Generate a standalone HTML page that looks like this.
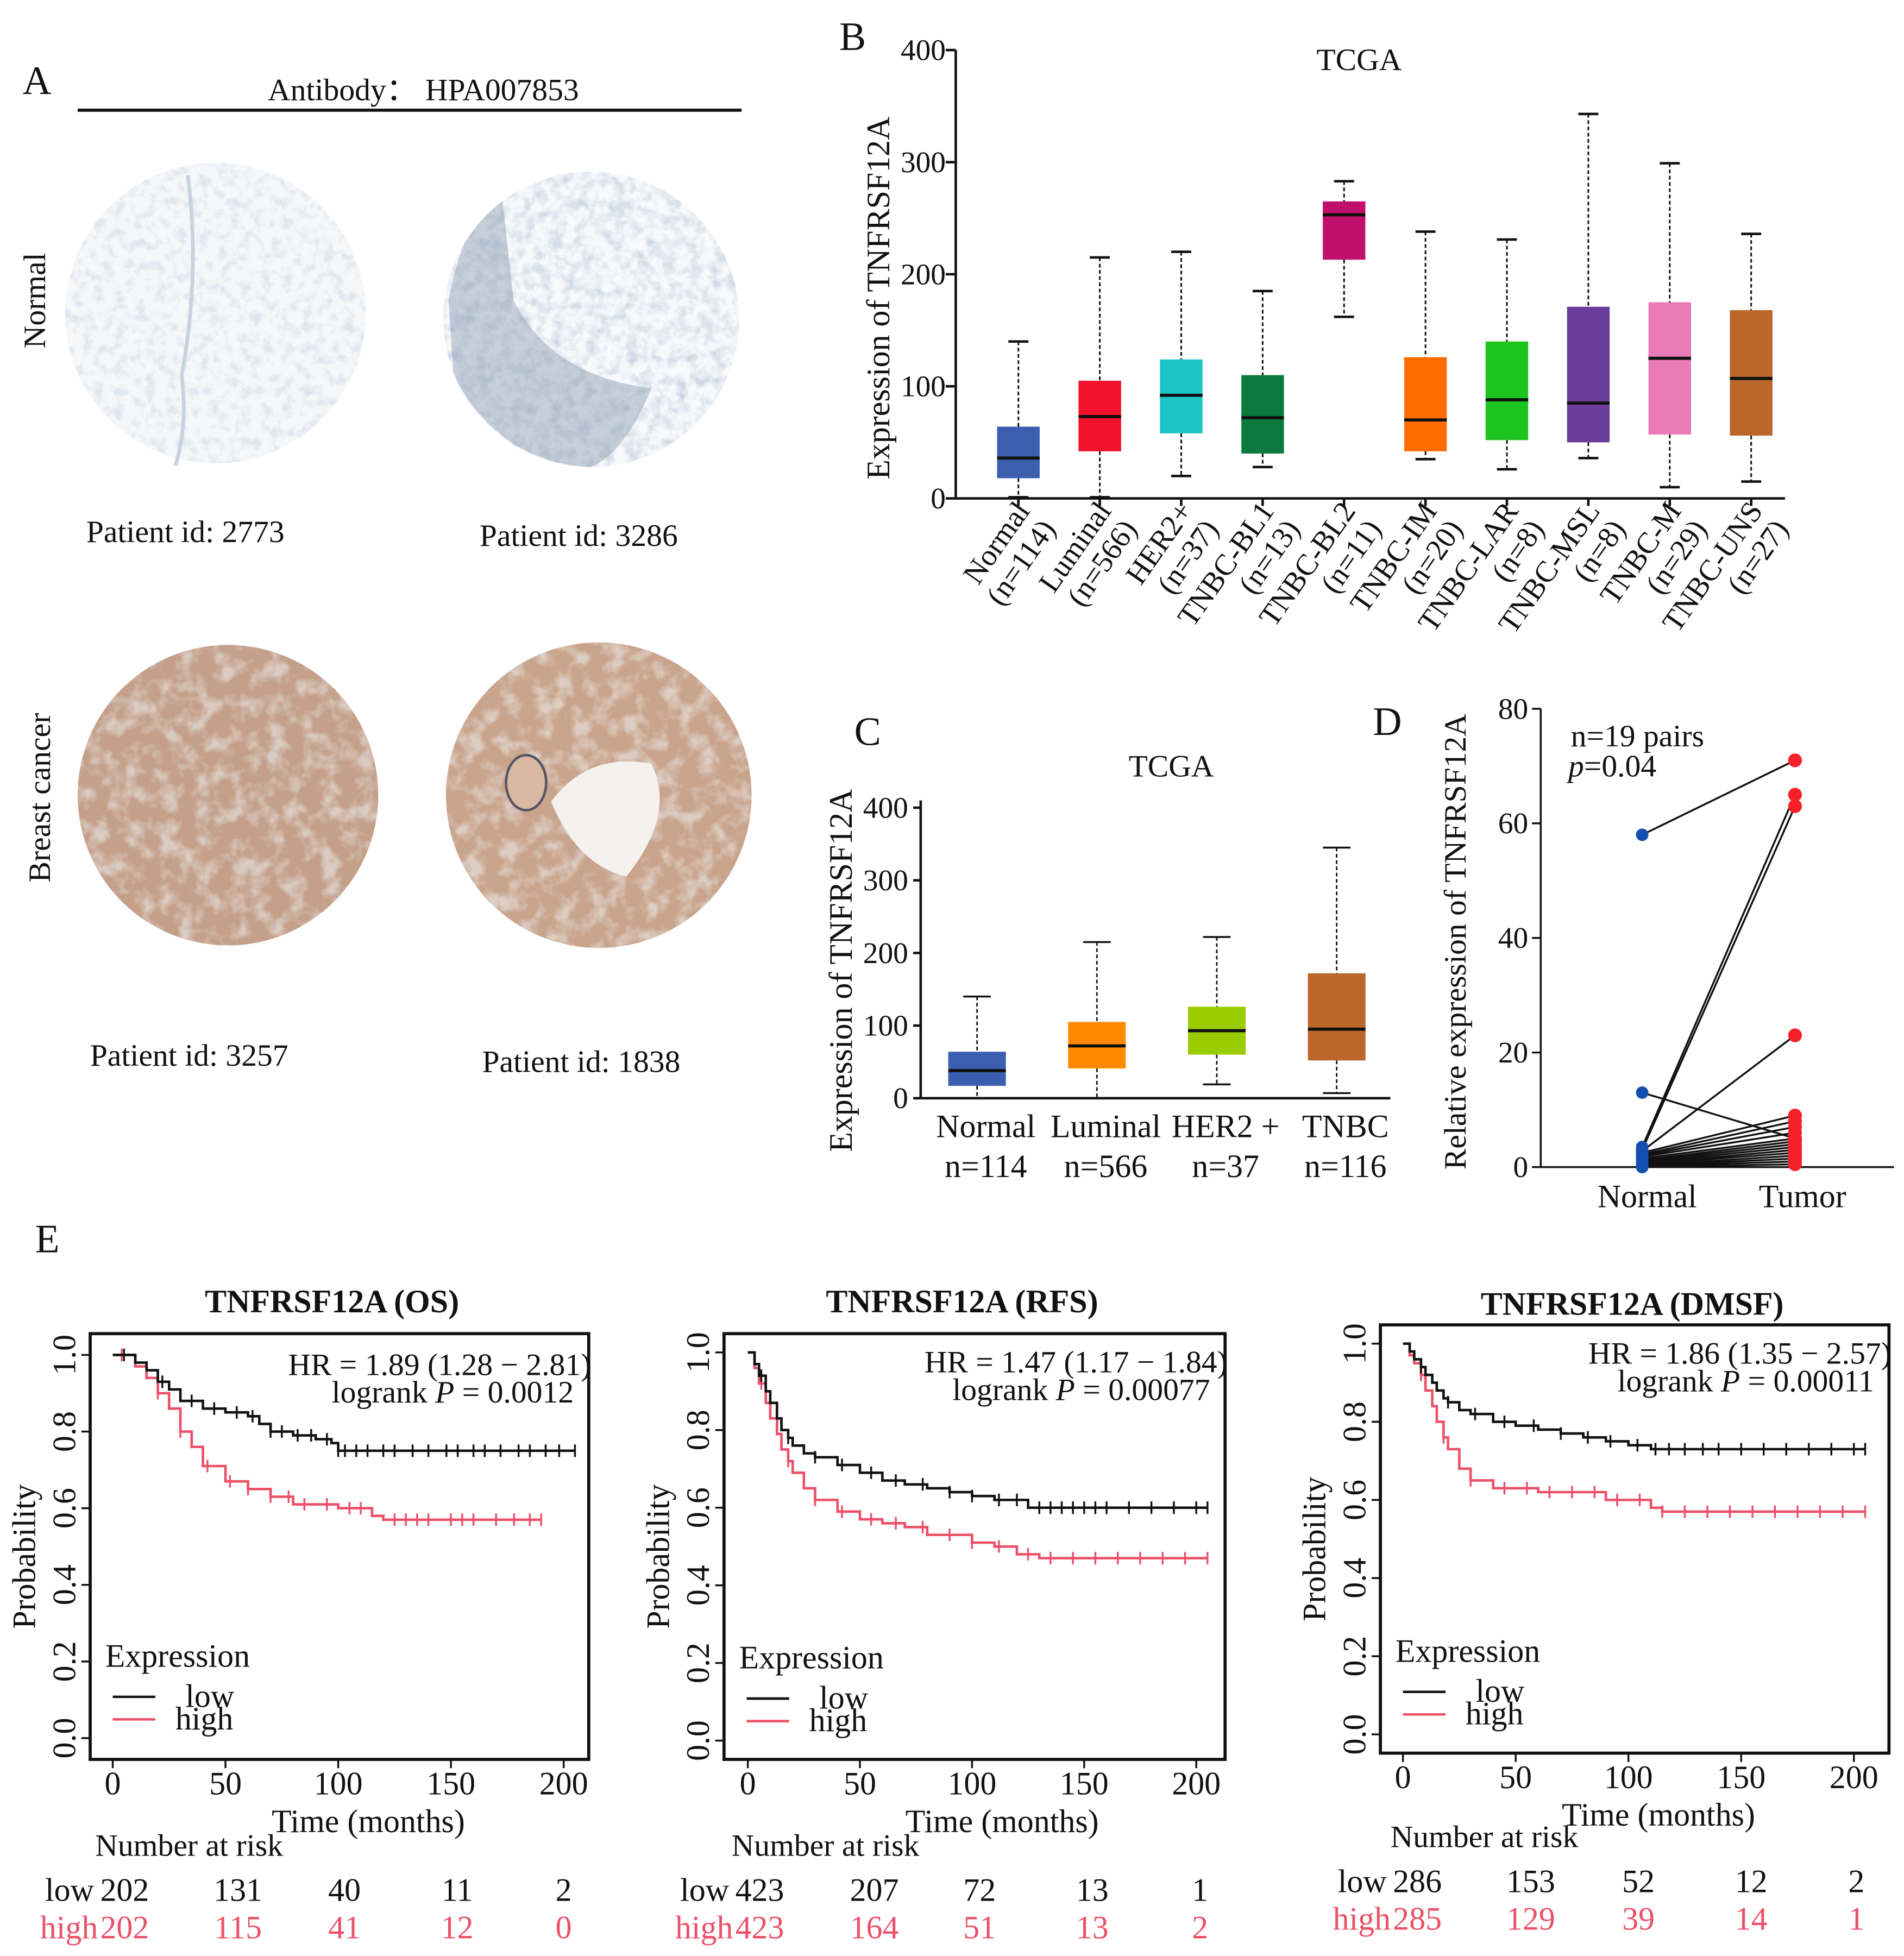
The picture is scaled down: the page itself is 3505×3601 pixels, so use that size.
<!DOCTYPE html>
<html><head><meta charset="utf-8">
<style>
html,body{margin:0;padding:0;background:#fff;}
svg{display:block;}
text{font-family:"Liberation Serif",serif;fill:#111;}
</style></head>
<body>
<svg id="fig" xmlns="http://www.w3.org/2000/svg" width="3505" height="3601" viewBox="0 0 1520 1562" preserveAspectRatio="none">
<defs>
<filter id="tex1" x="0" y="0" width="100%" height="100%">
 <feTurbulence type="fractalNoise" baseFrequency="0.12" numOctaves="3" seed="3"/>
 <feColorMatrix type="matrix" values="0 0 0 0 0.45  0 0 0 0 0.55  0 0 0 0 0.7  0 0 0 -3 1.6"/>
</filter>
<filter id="tex2" x="0" y="0" width="100%" height="100%">
 <feTurbulence type="fractalNoise" baseFrequency="0.07" numOctaves="3" seed="7"/>
 <feColorMatrix type="matrix" values="0 0 0 0 0.85  0 0 0 0 0.88  0 0 0 0 0.9  0 0 0 -3 1.7"/>
</filter>
<filter id="tex3" x="0" y="0" width="100%" height="100%">
 <feTurbulence type="fractalNoise" baseFrequency="0.1" numOctaves="3" seed="11"/>
 <feColorMatrix type="matrix" values="0 0 0 0 0.2  0 0 0 0 0.3  0 0 0 0 0.45  0 0 0 -3 1.6"/>
</filter>
<clipPath id="c1"><circle cx="172" cy="250" r="120"/></clipPath>
<clipPath id="c2"><circle cx="472" cy="255" r="118"/></clipPath>
<clipPath id="c3"><circle cx="182" cy="635" r="120"/></clipPath>
<clipPath id="c4"><circle cx="478" cy="635" r="122"/></clipPath>
</defs>

<g>
<text x="18" y="75" font-size="32">A</text>
<text x="338" y="80" font-size="25" text-anchor="middle">Antibody： HPA007853</text>
<line x1="62" y1="88" x2="592" y2="88" stroke="#111" stroke-width="2.5"/>
<text transform="translate(36,240) rotate(-90)" font-size="25" text-anchor="middle">Normal</text>
<text transform="translate(40,637) rotate(-90)" font-size="25" text-anchor="middle">Breast cancer</text>

<g>
<circle cx="172" cy="250" r="120" fill="#f5f7f9"/>
<rect x="50" y="128" width="245" height="245" filter="url(#tex1)" clip-path="url(#c1)" opacity="0.35"/>
<path d="M150,140 Q160,220 145,300 Q150,340 140,372" fill="none" stroke="#c8d3e0" stroke-width="3"/>
</g>
<g>
<circle cx="472" cy="255" r="118" fill="#f7f9fb"/>
<rect x="352" y="135" width="240" height="240" filter="url(#tex1)" clip-path="url(#c2)" opacity="0.35"/>
<path d="M358,240 Q370,175 400,150 L410,240 Q440,300 520,310 Q500,360 472,373 Q400,370 362,300 Z" fill="#8a9bb2" opacity="0.45" clip-path="url(#c2)"/>
<rect x="352" y="135" width="240" height="240" filter="url(#tex3)" clip-path="url(#c2)" opacity="0.25"/>
</g>
<g>
<circle cx="182" cy="635" r="120" fill="#c4a08a"/>
<rect x="60" y="513" width="245" height="245" filter="url(#tex2)" clip-path="url(#c3)" opacity="0.55"/>
</g>
<g>
<circle cx="478" cy="635" r="122" fill="#c9a48c"/>
<rect x="354" y="511" width="248" height="248" filter="url(#tex2)" clip-path="url(#c4)" opacity="0.55"/>
<path d="M440,640 Q470,600 520,610 Q540,650 500,700 Q460,690 440,640Z" fill="#f4f1ee" clip-path="url(#c4)"/>
<ellipse cx="420" cy="625" rx="16" ry="22" fill="#d9b8a2" stroke="#556" stroke-width="2"/>
</g>
<text x="148" y="433" font-size="25" text-anchor="middle">Patient id: 2773</text>
<text x="462" y="436" font-size="25" text-anchor="middle">Patient id: 3286</text>
<text x="151" y="851" font-size="25" text-anchor="middle">Patient id: 3257</text>
<text x="464" y="856" font-size="25" text-anchor="middle">Patient id: 1838</text>
</g>

<g id="gB"></g>
<g id="gC"></g>
<g id="gD"></g>
<g id="gE"></g>
</svg>

<script>
// ---------- Panel B data ----------
const bCats = ["Normal","Luminal","HER2+","TNBC-BL1","TNBC-BL2","TNBC-IM","TNBC-LAR","TNBC-MSL","TNBC-M","TNBC-UNS"];
const bN = ["(n=114)","(n=566)","(n=37)","(n=13)","(n=11)","(n=20)","(n=8)","(n=8)","(n=29)","(n=27)"];
const bMax = [140,215,220,185,283,238,231,343,299,236];
const bQ3 = [64,105,124,110,265,126,140,171,175,168];
const bMed = [36,73,92,72,253,70,88,85,125,107];
const bQ1 = [18,42,58,40,213,42,52,50,57,56];
const bMin = [1,1,20,28,162,35,26,36,10,15];
const bColors = ["#3b5fae","#f2122c","#1cc6c6","#0b7a3c","#c0106c","#ff6c00","#1ec41e","#6a3d9a","#e87bb8","#b9672b"];
const bTicks = [0,100,200,300,400];

// ---------- Panel C data ----------
const cCats = ["Normal","Luminal","HER2 +","TNBC"];
const cN = ["n=114","n=566","n=37","n=116"];
const cMax = [140,215,222,345];
const cQ3 = [64,105,126,172];
const cMed = [38,72,93,95];
const cQ1 = [17,41,60,52];
const cMin = [0,0,19,7];
const cColors = ["#3b5fae","#ff8a00","#9acc00","#b9672b"];
const cTicks = [0,100,200,300,400];

// ---------- Panel D data ----------
const dNormal = [58,13,3.5,3,2.8,2.5,2.2,2,1.8,1.5,1.2,1,0.8,0.6,0.5,0.3,0.2,0.1,0];
const dTumor = [71,5,65,63,23,9,8,7,6,5,4.5,4,3.5,3,2.5,2,1.5,1,0.5];
const dTicks = [0,20,40,60,80];

// ---------- Panel E data ----------
const eTitles = ["TNFRSF12A (OS)","TNFRSF12A (RFS)","TNFRSF12A (DMSF)"];
const eHR = ["HR = 1.89 (1.28 − 2.81)","HR = 1.47 (1.17 − 1.84)","HR = 1.86 (1.35 − 2.57)"];
const eP = ["0.0012","0.00077","0.00011"];
const eLowT = [[0,10,15,20,25,30,40,50,60,65,70,80,90,97,100,205],[0,3,5,8,10,13,15,18,20,25,30,40,50,60,70,80,90,100,110,125,205],[0,3,5,8,10,13,15,18,20,25,30,40,50,60,70,80,90,100,110,205]];
const eLowS = [[1,0.98,0.96,0.93,0.91,0.88,0.86,0.85,0.84,0.82,0.80,0.79,0.78,0.77,0.75,0.75],[1,0.97,0.94,0.90,0.87,0.83,0.80,0.78,0.76,0.74,0.73,0.71,0.69,0.67,0.66,0.65,0.64,0.63,0.62,0.60,0.60],[1,0.98,0.96,0.94,0.92,0.90,0.88,0.86,0.85,0.83,0.82,0.80,0.79,0.78,0.77,0.76,0.75,0.74,0.73,0.73]];
const eHighT = [[0,10,15,20,25,30,35,40,50,60,70,80,100,115,120,190],[0,3,5,8,10,13,15,18,20,25,30,40,50,60,70,80,100,110,120,130,205],[0,3,5,8,10,13,15,18,20,25,30,40,50,60,80,90,110,115,205]];
const eHighS = [[1,0.97,0.94,0.90,0.86,0.80,0.76,0.71,0.67,0.65,0.63,0.61,0.60,0.58,0.57,0.57],[1,0.96,0.92,0.87,0.83,0.79,0.75,0.72,0.69,0.65,0.62,0.59,0.57,0.56,0.55,0.53,0.51,0.50,0.48,0.47,0.47],[1,0.97,0.95,0.92,0.88,0.84,0.80,0.76,0.73,0.68,0.65,0.63,0.63,0.62,0.62,0.60,0.58,0.57,0.57]];
const eLowCens = [[5,22,35,45,55,62,70,75,82,88,95,100,103,108,113,120,125,133,140,148,153,160,165,172,180,185,192,198,205],[6,18,30,42,55,66,78,90,100,112,120,130,135,140,145,150,155,160,170,180,190,200,205],[8,20,32,45,58,70,82,92,104,112,118,125,133,140,150,160,170,180,190,200,205]];
const eHighCens = [[4,20,30,42,52,60,70,78,85,95,105,110,125,130,135,140,150,155,160,170,178,185,190],[6,18,30,42,55,66,78,90,100,112,125,135,145,155,165,175,185,195,205],[8,18,30,45,55,65,75,85,95,105,115,125,135,145,155,165,175,185,195,205]];
const eRiskLow = [["202","131","40","11","2"],["423","207","72","13","1"],["286","153","52","12","2"]];
const eRiskHigh = [["202","115","41","12","0"],["423","164","51","13","2"],["285","129","39","14","1"]];
const eXTicks = [0,50,100,150,200];
const eYTicks = [0,0.2,0.4,0.6,0.8,1.0];

const NS = "http://www.w3.org/2000/svg";
function el(tag, attrs, parent, txt){
  const e = document.createElementNS(NS, tag);
  for (const k in attrs) e.setAttribute(k, attrs[k]);
  if (txt !== undefined) e.textContent = txt;
  parent.appendChild(e);
  return e;
}

// ================= Panel B =================
(function(){
  const g = document.getElementById('gB');
  const y0 = 398, ppu = 0.895, x0 = 763;
  const yB = v => y0 - v*ppu;
  const xB = i => 813 + 65*i;
  let t;
  t = el('text',{x:670,y:40,'font-size':32},g,'B');
  
  
  t = el('text',{x:1085,y:56,'font-size':25,'text-anchor':'middle'},g,'TCGA');
  
  
  t = el('text',{transform:'translate(710,238) rotate(-90)','font-size':26,'text-anchor':'middle','xml:space':'preserve'},g,'Expression of  TNFRSF12A');
  
  
  let a = el('line',{x1:x0,y1:yB(400),x2:x0,y2:y0,stroke:'#111','stroke-width':2},g);
  
  
  a = el('line',{x1:x0,y1:y0,x2:1425,y2:y0,stroke:'#111','stroke-width':2},g);
  
  
  bTicks.forEach(v=>{
    const tk = el('line',{x1:x0-8,y1:yB(v),x2:x0,y2:yB(v),stroke:'#111','stroke-width':2},g);
    
    
    const lb = el('text',{x:x0-8,y:yB(v)+8,'font-size':24,'text-anchor':'end'},g,String(v));
    
    
  });
  bCats.forEach((c,i)=>{
    const x = xB(i), w = 34;
    const bx = el('g',{},g);
    
    
    el('line',{x1:x,y1:yB(bMax[i]),x2:x,y2:yB(bQ3[i]),stroke:'#111','stroke-width':1.3,'stroke-dasharray':'3,2'},bx);
    el('line',{x1:x,y1:yB(bQ1[i]),x2:x,y2:yB(bMin[i]),stroke:'#111','stroke-width':1.3,'stroke-dasharray':'3,2'},bx);
    el('line',{x1:x-8,y1:yB(bMax[i]),x2:x+8,y2:yB(bMax[i]),stroke:'#111','stroke-width':2},bx);
    el('line',{x1:x-8,y1:yB(bMin[i]),x2:x+8,y2:yB(bMin[i]),stroke:'#111','stroke-width':2},bx);
    el('rect',{x:x-w/2,y:yB(bQ3[i]),width:w,height:yB(bQ1[i])-yB(bQ3[i]),fill:bColors[i]},bx);
    el('line',{x1:x-w/2,y1:yB(bMed[i]),x2:x+w/2,y2:yB(bMed[i]),stroke:'#111','stroke-width':2.5},bx);
    const tk = el('line',{x1:x,y1:y0,x2:x,y2:y0+6,stroke:'#111','stroke-width':2},g);
    
    
    const lb = el('text',{transform:`translate(${x+10},${y0+10}) rotate(-55)`,'font-size':24,'text-anchor':'end'},g);
    
    
    el('tspan',{x:0,y:0},lb,c);
    el('tspan',{x:0,y:25},lb,bN[i]);
  });
})();

// ================= Panel C =================
(function(){
  const g = document.getElementById('gC');
  const y0 = 877, ppu = 0.58, x0 = 735;
  const yC = v => y0 - v*ppu;
  const xC = i => 780 + 95.7*i;
  let t;
  t = el('text',{x:682,y:595,'font-size':32},g,'C');
  
  
  t = el('text',{x:935,y:620,'font-size':25,'text-anchor':'middle'},g,'TCGA');
  
  
  t = el('text',{transform:'translate(680,775) rotate(-90)','font-size':26,'text-anchor':'middle','xml:space':'preserve'},g,'Expression of  TNFRSF12A');
  
  
  let a = el('line',{x1:x0,y1:yC(410),x2:x0,y2:y0,stroke:'#111','stroke-width':2},g);
  
  
  a = el('line',{x1:x0,y1:y0,x2:1110,y2:y0,stroke:'#111','stroke-width':2},g);
  
  
  cTicks.forEach(v=>{
    const tk = el('line',{x1:x0-6,y1:yC(v),x2:x0,y2:yC(v),stroke:'#111','stroke-width':2},g);
    
    
    const lb = el('text',{x:x0-10,y:yC(v)+8,'font-size':24,'text-anchor':'end'},g,String(v));
    
    
  });
  cCats.forEach((c,i)=>{
    const x = xC(i), w = 46;
    const bx = el('g',{},g);
    
    
    el('line',{x1:x,y1:yC(cMax[i]),x2:x,y2:yC(cQ3[i]),stroke:'#111','stroke-width':1.2,'stroke-dasharray':'3,2'},bx);
    el('line',{x1:x,y1:yC(cQ1[i]),x2:x,y2:yC(cMin[i]),stroke:'#111','stroke-width':1.2,'stroke-dasharray':'3,2'},bx);
    el('line',{x1:x-11,y1:yC(cMax[i]),x2:x+11,y2:yC(cMax[i]),stroke:'#111','stroke-width':1.5},bx);
    el('line',{x1:x-11,y1:yC(cMin[i]),x2:x+11,y2:yC(cMin[i]),stroke:'#111','stroke-width':1.5},bx);
    el('rect',{x:x-w/2,y:yC(cQ3[i]),width:w,height:yC(cQ1[i])-yC(cQ3[i]),fill:cColors[i]},bx);
    el('line',{x1:x-w/2,y1:yC(cMed[i]),x2:x+w/2,y2:yC(cMed[i]),stroke:'#111','stroke-width':2.5},bx);
    const lb = el('text',{x:x+7,y:908,'font-size':26,'text-anchor':'middle'},g,c);
    
    
    const ln = el('text',{x:x+7,y:940,'font-size':26,'text-anchor':'middle'},g,cN[i]);
    
    
  });
})();

// ================= Panel D =================
(function(){
  const g = document.getElementById('gD');
  const y0 = 932, x0 = 1230;
  const yD = v => y0 - v*(366/80);
  const xN = 1311, xT = 1433;
  let t;
  t = el('text',{x:1096,y:587,'font-size':32},g,'D');
  
  
  t = el('text',{x:1254,y:596,'font-size':25},g,'n=19 pairs');
  
  
  t = el('text',{x:1252,y:620,'font-size':25},g);
  
  
  el('tspan',{'font-style':'italic'},t,'p');
  el('tspan',{},t,'=0.04');
  t = el('text',{transform:'translate(1170,752) rotate(-90)','font-size':25,'text-anchor':'middle'},g,'Relative expression of TNFRSF12A');
  
  
  let a = el('line',{x1:x0,y1:yD(80),x2:x0,y2:y0,stroke:'#111','stroke-width':1.5},g);
  
  
  a = el('line',{x1:x0,y1:y0,x2:1512,y2:y0,stroke:'#111','stroke-width':1.5},g);
  
  
  dTicks.forEach(v=>{
    const tk = el('line',{x1:x0-7,y1:yD(v),x2:x0,y2:yD(v),stroke:'#111','stroke-width':1.5},g);
    
    
    const lb = el('text',{x:x0-10,y:yD(v)+8,'font-size':24,'text-anchor':'end'},g,String(v));
    
    
  });
  dNormal.forEach((v,i)=>{
    const ln = el('line',{x1:xN,y1:yD(v),x2:xT,y2:yD(dTumor[i]),stroke:'#111','stroke-width':1.5},g);
    
    
  });
  dNormal.forEach(v=>{
    const c = el('circle',{cx:xN,cy:yD(v),r:5,fill:'#1550b0'},g);
    
    
  });
  dTumor.forEach(v=>{
    const c = el('circle',{cx:xT,cy:yD(v),r:5.5,fill:'#f5202a'},g);
    
    
  });
  t = el('text',{x:xN+4,y:964,'font-size':26,'text-anchor':'middle'},g,'Normal');
  
  
  t = el('text',{x:xT+6,y:964,'font-size':26,'text-anchor':'middle'},g,'Tumor');
  
  
})();

// ================= Panel E =================
(function(){
  const g = document.getElementById('gE');
  let t = el('text',{x:28,y:1000,'font-size':32},g,'E');
  
  
  const layouts = [
    {bx:72,by:1065,bw:398,bh:340,x0:90,x200:450,y1:1082,y0:1388,tx:265,ty:1048,riskY:1482,r1:1518,r2:1548,riskX:[78,190,275,365,450],nX:76},
    {bx:578,by:1065,bw:400,bh:340,x0:597,x200:955,y1:1080,y0:1390,tx:768,ty:1048,riskY:1482,r1:1518,r2:1548,riskX:[585,698,782,872,958],nX:584},
    {bx:1102,by:1058,bw:406,bh:342,x0:1120,x200:1480,y1:1073,y0:1385,tx:1303,ty:1050,riskY:1475,r1:1511,r2:1541,riskX:[1110,1222,1308,1398,1482],nX:1110}
  ];
  layouts.forEach((L,k)=>{
    const pg = el('g',{},g);
    
    
    const xs = m => L.x0 + m*(L.x200-L.x0)/200;
    const ys = p => L.y0 - p*(L.y0-L.y1);
    t = el('text',{x:L.tx,y:L.ty,'font-size':26,'font-weight':'bold','text-anchor':'middle'},pg,eTitles[k]);
    
    
    const fr = el('rect',{x:L.bx,y:L.by,width:L.bw,height:L.bh,fill:'none',stroke:'#111','stroke-width':2.5},pg);
    
    
    eYTicks.forEach(v=>{
      const tk = el('line',{x1:L.bx-7,y1:ys(v),x2:L.bx,y2:ys(v),stroke:'#111','stroke-width':1.5},pg);
      
      
      const lb = el('text',{transform:`translate(${L.bx-12},${ys(v)}) rotate(-90)`,'font-size':26,'text-anchor':'middle'},pg,v.toFixed(1));
      
      
    });
    eXTicks.forEach(v=>{
      const tk = el('line',{x1:xs(v),y1:L.by+L.bh,x2:xs(v),y2:L.by+L.bh+7,stroke:'#111','stroke-width':1.5},pg);
      
      
      const lb = el('text',{x:xs(v),y:L.by+L.bh+28,'font-size':26,'text-anchor':'middle'},pg,String(v));
      
      
    });
    t = el('text',{transform:`translate(${L.bx-44},${(L.by+L.bh/2)+8}) rotate(-90)`,'font-size':26,'text-anchor':'middle'},pg,'Probability');
    
    
    t = el('text',{x:(L.x0+L.x200)/2+24,y:L.by+L.bh+58,'font-size':26,'text-anchor':'middle'},pg,'Time (months)');
    
    
    t = el('text',{x:L.bx+L.bw+2,y:L.y1+16,'font-size':25,'text-anchor':'end'},pg,eHR[k]);
    
    
    t = el('text',{x:L.bx+L.bw-12,y:L.y1+38,'font-size':25,'text-anchor':'end'},pg);
    
    
    el('tspan',{},t,'logrank ');
    el('tspan',{'font-style':'italic'},t,'P');
    el('tspan',{},t,' = '+eP[k]);
    function curve(T,S,cens,color,name){
      let d = `M${xs(T[0])},${ys(S[0])}`;
      for(let i=1;i<T.length;i++){ d += ` H${xs(T[i])} V${ys(S[i])}`; }
      const p = el('path',{d:d,fill:'none',stroke:color,'stroke-width':2},pg);
      
      
      cens.forEach(c=>{
        let s = S[0];
        for(let i=0;i<T.length;i++){ if(T[i]<=c) s=S[i]; }
        const m = el('line',{x1:xs(c),y1:ys(s)-5,x2:xs(c),y2:ys(s)+5,stroke:color,'stroke-width':1.5},pg);
        
        
      });
    }
    curve(eHighT[k],eHighS[k],eHighCens[k],'#ec5068','curve-high');
    curve(eLowT[k],eLowS[k],eLowCens[k],'#111','curve-low');
    const lg = el('g',{},pg);
    
    
    const ly = ys(0.16);
    el('text',{x:L.bx+12,y:ly-8,'font-size':26},lg,'Expression');
    el('line',{x1:L.bx+18,y1:ly+16,x2:L.bx+52,y2:ly+16,stroke:'#111','stroke-width':2},lg);
    el('text',{x:L.bx+76,y:ly+24,'font-size':26},lg,'low');
    el('line',{x1:L.bx+18,y1:ly+34,x2:L.bx+52,y2:ly+34,stroke:'#ec5068','stroke-width':2},lg);
    el('text',{x:L.bx+68,y:ly+42,'font-size':26},lg,'high');
    t = el('text',{x:L.nX,y:L.riskY,'font-size':25},pg,'Number at risk');
    
    
    const rt = el('g',{},pg);
    
    
    el('text',{x:L.riskX[0]-42,y:L.r1,'font-size':26},rt,'low');
    el('text',{x:L.riskX[0]-46,y:L.r2,'font-size':26,style:'fill:#ec5068'},rt,'high');
    eRiskLow[k].forEach((v,i)=>{
      el('text',{x:i==0?L.riskX[0]+2:L.riskX[i],y:L.r1,'font-size':26,'text-anchor':i==0?'start':'middle'},rt,v);
    });
    eRiskHigh[k].forEach((v,i)=>{
      el('text',{x:i==0?L.riskX[0]+2:L.riskX[i],y:L.r2,'font-size':26,'text-anchor':i==0?'start':'middle',style:'fill:#ec5068'},rt,v);
    });
  });
})();
</script>
</body></html>
